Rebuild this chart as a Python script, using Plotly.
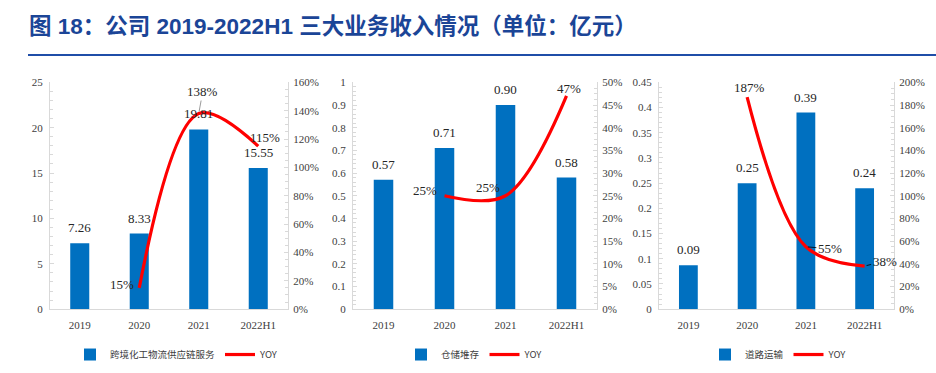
import plotly.graph_objects as go

# ---------------- data ----------------
categories = ["2019", "2020", "2021", "2022H1"]
chem_rev = [7.26, 8.33, 19.81, 15.55]
chem_yoy = [None, 0.15, 1.38, 1.15]
wh_rev = [0.57, 0.71, 0.90, 0.58]
wh_yoy = [None, 0.25, 0.25, 0.47]
road_rev = [0.087, 0.25, 0.39, 0.24]
road_yoy = [None, 1.87, 0.55, 0.38]
series_names = ["跨境化工物流供应链服务", "仓储堆存", "道路运输"]
yoy_name = "YOY"
title_text = "图 18：公司 2019-2022H1 三大业务收入情况（单位：亿元）"

# ---------------- style ----------------
W, H = 936, 373
BAR_BLUE = "#0070C0"
LINE_RED = "#FF0000"
TITLE_BLUE = "#1B4597"
AXIS_GRAY = "#D9D9D9"
TICK_COLOR = "#404040"
SERIF = "Liberation Serif, Times New Roman, serif"
CJK = "Noto Sans CJK SC, sans-serif"


def px_x(p):
    return p / W


def px_y(p):
    # vertical calibration of the page capture
    return 1 - ((p - 7.3) / 0.96) / H


Y_DOM = [px_y(308), px_y(83)]

panels = [
    dict(rev=chem_rev, yoy=chem_yoy, name=series_names[0], xd=(50, 288),
         lmax=25, ldt=5, rmax=1.6, rdt=0.2, legx=70,
         lbl=[None,
              dict(xanchor="right", xshift=-3, yshift=3),
              dict(arrow=True, ax=4, ay=-22, ac="#808080"),
              dict(xshift=7, yshift=9)]),
    dict(rev=wh_rev, yoy=wh_yoy, name=series_names[1], xd=(353, 597),
         lmax=1, ldt=0.1, rmax=0.5, rdt=0.05, legx=401,
         lbl=[None,
              dict(xanchor="right", xshift=-6, yshift=5),
              dict(xanchor="right", xshift=-4, yshift=8),
              dict(xshift=2, yshift=7)]),
    dict(rev=road_rev, yoy=road_yoy, name=series_names[2], xd=(659, 894),
         lmax=0.45, ldt=0.05, rmax=2.0, rdt=0.2, legx=705,
         lbl=[None,
              dict(xshift=2, yshift=10),
              dict(arrow=True, ax=24, ay=2, ac="#000000"),
              dict(arrow=True, ax=20, ay=-5, ac="#000000")]),
]

fig = go.Figure()
annotations = []
layout = {}

for i, p in enumerate(panels):
    xn = "x" if i == 0 else f"x{i + 1}"
    yl_idx = 2 * i + 1
    yr_idx = 2 * i + 2
    yl = "y" if yl_idx == 1 else f"y{yl_idx}"
    yr = f"y{yr_idx}"
    leg = "legend" if i == 0 else f"legend{i + 1}"

    fig.add_trace(go.Bar(
        x=categories, y=p["rev"], name=p["name"], xaxis=xn, yaxis=yl,
        marker=dict(color=BAR_BLUE, line=dict(width=0)), width=0.32,
        legend=leg, hoverinfo="x+y",
    ))
    fig.add_trace(go.Scatter(
        x=categories, y=p["yoy"], name=yoy_name, xaxis=xn, yaxis=yr,
        mode="lines", line=dict(color=LINE_RED, width=3.2, shape="spline", smoothing=1.0),
        legend=leg, cliponaxis=False,
    ))

    xkey = "xaxis" if i == 0 else f"xaxis{i + 1}"
    ylkey = "yaxis" if yl_idx == 1 else f"yaxis{yl_idx}"
    yrkey = f"yaxis{yr_idx}"

    layout[xkey] = dict(
        domain=[px_x(p["xd"][0]), px_x(p["xd"][1])], anchor=yl,
        type="category", range=[-0.5, 3.5],
        showline=True, linecolor=AXIS_GRAY, linewidth=1,
        ticks="", showgrid=False, zeroline=False,
        tickfont=dict(family=SERIF, size=11, color=TICK_COLOR),
        ticklabelstandoff=6,
    )
    layout[ylkey] = dict(
        domain=Y_DOM, anchor=xn, range=[0, p["lmax"] * 1.0001],
        dtick=p["ldt"], tick0=0, showgrid=False, zeroline=False,
        showline=True, linecolor=AXIS_GRAY, linewidth=1,
        ticks="inside", ticklen=4, tickcolor=AXIS_GRAY,
        minor=dict(dtick=p["ldt"] / 5, ticks="inside", ticklen=3, tickcolor=AXIS_GRAY),
        tickfont=dict(family=SERIF, size=11, color=TICK_COLOR),
        ticklabelstandoff=4,
    )
    layout[yrkey] = dict(
        domain=Y_DOM, anchor=xn, overlaying=yl, side="right",
        range=[0, p["rmax"] * 1.0001], dtick=p["rdt"], tick0=0,
        tickformat=".0%", showgrid=False, zeroline=False,
        showline=True, linecolor=AXIS_GRAY, linewidth=1,
        ticks="inside", ticklen=4, tickcolor=AXIS_GRAY,
        minor=dict(dtick=p["rdt"] / 4, ticks="inside", ticklen=3, tickcolor=AXIS_GRAY),
        tickfont=dict(family=SERIF, size=11, color=TICK_COLOR),
        ticklabelstandoff=2,
    )
    layout[leg] = dict(
        orientation="h", x=px_x(p["legx"]), xanchor="left",
        y=px_y(353), yanchor="middle", bgcolor="rgba(0,0,0,0)",
        font=dict(family=CJK, size=9.5, color="#404040"),
        itemwidth=30, tracegroupgap=0,
    )

    # bar value labels (x given as category index)
    for j, v in enumerate(p["rev"]):
        annotations.append(dict(
            x=j, y=v, xref=xn, yref=yl, text=f"{v:.2f}", showarrow=False,
            yanchor="bottom", yshift=6,
            font=dict(family=SERIF, size=13, color="#262626"),
        ))
    # yoy labels
    for j, (v, st) in enumerate(zip(p["yoy"], p["lbl"])):
        if v is None or st is None:
            continue
        a = dict(x=j, y=v, xref=xn, yref=yr, text=f"{v * 100:.0f}%",
                 font=dict(family=SERIF, size=13, color="#262626"))
        if st.get("arrow"):
            a.update(showarrow=True, arrowhead=0, arrowwidth=0.8,
                     arrowcolor=st["ac"], ax=st["ax"], ay=st["ay"], standoff=2)
        else:
            a.update(showarrow=False, xanchor=st.get("xanchor", "center"),
                     yanchor="middle", xshift=st.get("xshift", 0),
                     yshift=st.get("yshift", 0))
        annotations.append(a)

# title
annotations.append(dict(
    x=px_x(27), y=px_y(27), xref="paper", yref="paper", xanchor="left",
    yanchor="middle", showarrow=False,
    text=f"<b>{title_text}</b>",
    font=dict(family="Liberation Sans, " + CJK, size=22.5, color=TITLE_BLUE),
))

fig.update_layout(
    width=W, height=H,
    margin=dict(l=0, r=0, t=0, b=0),
    paper_bgcolor="white", plot_bgcolor="white",
    annotations=annotations,
    shapes=[dict(type="line", xref="paper", yref="paper",
                 x0=px_x(28), x1=1, y0=px_y(56), y1=px_y(56),
                 line=dict(color="#1F4EA8", width=2))],
    barmode="overlay",
    **layout,
)

fig.write_html(
    "out.html",
    config={"displayModeBar": False},
    post_script="document.body.style.margin='0';document.body.style.overflow='hidden';",
)
